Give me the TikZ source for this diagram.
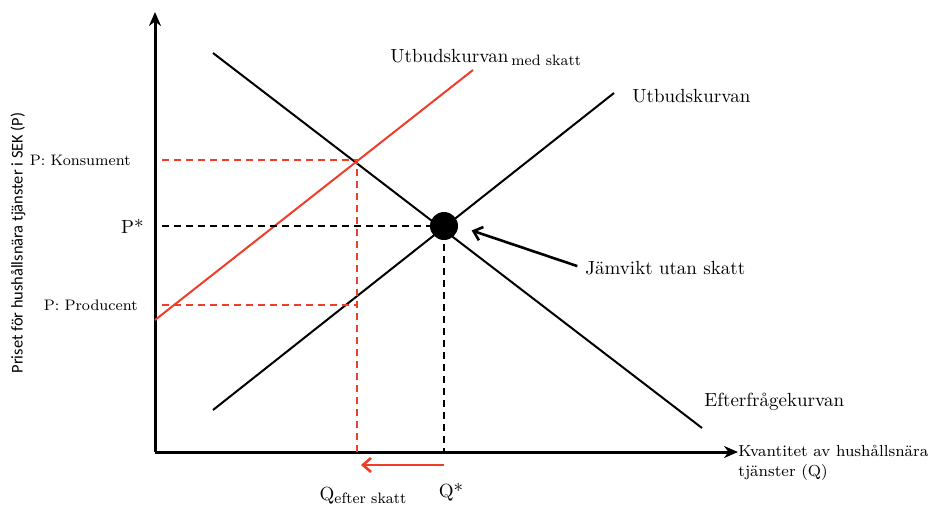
\documentclass[tikz,border=0pt]{standalone}
\usepackage{fontspec}
\usepackage{xcolor}
\usepackage{tikz}
\usetikzlibrary{arrows.meta, positioning}
\newfontfamily\axisfont{Carlito}
\definecolor{taxred}{RGB}{238,62,42}

\begin{document}
\begin{tikzpicture}[
        x=0.5pt, y=-0.5pt, % one unit = one pixel of the original sketch
        font=\fontsize{9.5}{11}\selectfont,
        % --- styles ---
        axis/.style={line width=1.5pt, -{Stealth[length=7pt, width=6pt]}},
        curve/.style={line width=1pt, black},
        taxcurve/.style={line width=1pt, taxred},
        guide/.style={line width=1.1pt, dash pattern=on 3.6pt off 2.4pt},
        pointer/.style={line width=1.3pt, -{Straight Barb[length=4pt, width=7pt]}},
        eqdot/.style={circle, fill=black, minimum size=14pt, inner sep=0pt},
        lbl/.style={inner sep=1pt},
        small/.style={font=\fontsize{8}{10}\selectfont},
        tick/.style={font=\fontsize{7.6}{9}\selectfont}
    ]
    \useasboundingbox (0,0) rectangle (928,505);

    % ==================== AXES ====================
    \coordinate (origin) at (155,452);
    \coordinate (ytop)   at (155,12);
    \coordinate (xend)   at (738,452);
    \draw[axis] (origin) -- (ytop);
    \draw[axis] (origin) -- (xend);

    % ==================== CURVES ====================
    \coordinate (demandA) at (213,53);
    \coordinate (demandB) at (702,428);
    \coordinate (supplyA) at (213,410);
    \coordinate (supplyB) at (614,93);
    \coordinate (taxA)    at (155,320);
    \coordinate (taxB)    at (473,70);

    \draw[curve]    (demandA) -- (demandB);
    \draw[curve]    (supplyA) -- (supplyB);
    \draw[taxcurve] (taxA) -- (taxB);

    % ==================== GUIDE LINES ====================
    \coordinate (eq)     at (444,226);
    \coordinate (eqY)    at (162,226);
    \coordinate (eqX)    at (444,452);
    \coordinate (taxeq)  at (357,160);
    \coordinate (konsY)  at (162,160);
    \coordinate (prodY)  at (162,305);
    \coordinate (prodX)  at (357,305);
    \coordinate (taxX)   at (357,452);

    \draw[guide, taxred] (konsY) -- (taxeq) -- (taxX);
    \draw[guide, taxred] (prodY) -- (prodX);
    \draw[guide] (eqY) -- (eq) -- (eqX);

    \node[eqdot] (eqpoint) at (eq) {};

    % ==================== LABELS ====================
    \node[lbl, rotate=90, font=\axisfont\fontsize{8.2}{10}\selectfont] (ylabel) at (18,243)
        {Priset för hushållsnära tjänster i SEK (P)};
    \node[lbl, tick, anchor=east] (pkons) at (133,160) {P: Konsument};
    \node[lbl, anchor=east]       (pstar) at (146,226) {P*};
    \node[lbl, tick, anchor=east] (pprod) at (140,305) {P: Producent};

    \node[lbl, anchor=base west] (taxlabel) at (388,62)
        {Utbudskurvan\,{\fontsize{7.5}{9}\selectfont\raisebox{-1.5pt}{med skatt}}};
    \node[lbl, anchor=base west] (supplylabel) at (630,102) {Utbudskurvan};
    \node[lbl, anchor=base west] (demandlabel) at (702,406) {Efterfrågekurvan};
    \node[lbl, anchor=west]      (eqlabel)     at (583,268) {Jämvikt utan skatt};

    \node[lbl, small, anchor=north west, align=left] (xlabel) at (736,443)
        {Kvantitet av hushållsnära\\tjänster (Q)};
    \node[lbl, anchor=base] (qstar) at (451,497) {Q*};
    \node[lbl, anchor=base] (qtax)  at (363,500)
        {Q\raisebox{-1.5pt}{\fontsize{7.5}{9}\selectfont efter skatt}};

    % ==================== ARROWS ====================
    \coordinate (shiftA) at (444,465);
    \coordinate (shiftB) at (361,465);
    \draw[pointer, taxred] (shiftA) -- (shiftB);
    \draw[pointer, shorten <=3pt, shorten >=7pt] (eqlabel.west) -- (eqpoint.east);

\end{tikzpicture}
\end{document}
